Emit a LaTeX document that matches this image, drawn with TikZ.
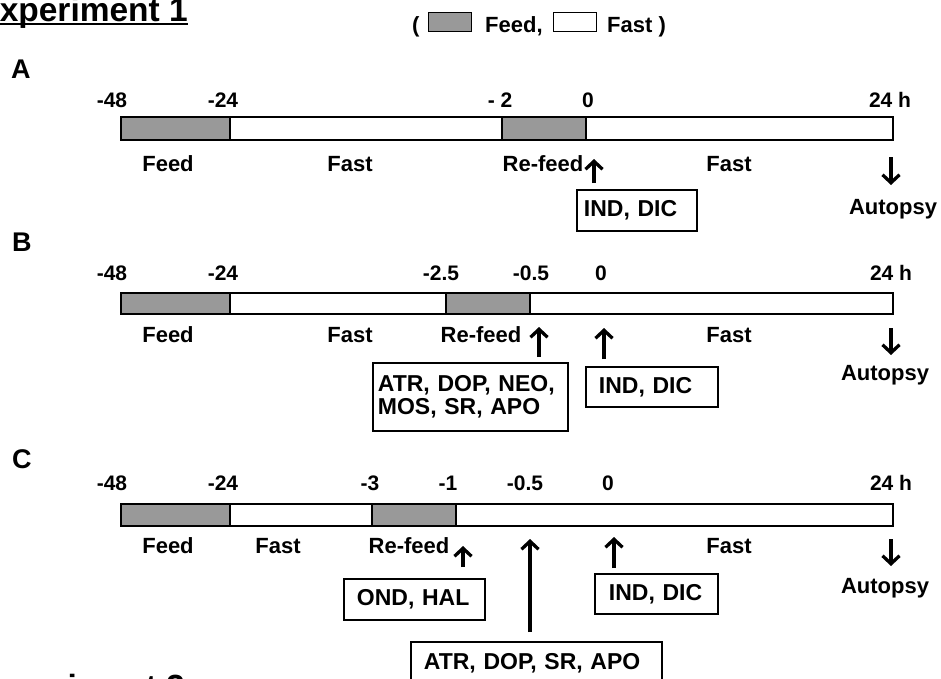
\documentclass[tikz,border=0pt]{standalone}
\usepackage{fontspec}
\setmainfont{Liberation Sans}
\usetikzlibrary{arrows.meta, positioning}
\definecolor{feedgray}{RGB}{153,153,153}
\begin{document}
\begin{tikzpicture}[
  x=1pt, y=-1pt,
  ticklab/.style = {font=\fontsize{21}{21}\selectfont\bfseries, anchor=base, inner sep=0pt},
  phaselab/.style = {font=\fontsize{22}{22}\selectfont\bfseries, anchor=base, inner sep=0pt},
  panellab/.style = {font=\fontsize{27}{27}\selectfont\bfseries, anchor=base west, inner sep=0pt},
  exptitle/.style = {font=\fontsize{33.5}{33.5}\selectfont\bfseries, anchor=base east, inner sep=0pt},
  feedseg/.style = {draw, fill=feedgray, line width=1.6pt},
  fastseg/.style = {draw, fill=white, line width=1.6pt},
  legbox/.style = {draw, line width=1.4pt, minimum width=43pt, minimum height=19pt,
    inner sep=0pt, anchor=south west},
  drugbox/.style = {draw, line width=1.8pt, font=\fontsize{23}{23}\selectfont\bfseries,
    align=left, inner ysep=0pt, anchor=north west},
  dosearrow/.style = {-{Straight Barb[length=8pt, width=17pt]}, line width=3.3pt}
]
\fill[white] (0,0) rectangle (941,678);
\useasboundingbox (0,0) rectangle (941,678);
%--- TITULOS E LEGENDA ---
\node[exptitle] (exp1) at (188,21) {Experiment 1};
\draw[line width=2pt] ([yshift=-3pt]exp1.base west) -- ([yshift=-3pt]exp1.base east);
\node[exptitle] (exp2) at (185,698) {Experiment 2};
\draw[line width=2pt] ([yshift=-3pt]exp2.base west) -- ([yshift=-3pt]exp2.base east);
\node[phaselab, anchor=base west] (lopen) at (412,32) {(};
\node[legbox, fill=feedgray] (lfeed) at (428,32) {};
\node[phaselab, anchor=base west] (lfeedtxt) at (485,32) {Feed,};
\node[legbox, fill=white] (lfast) at (553,32) {};
\node[phaselab, anchor=base west] (lfasttxt) at (607,32) {Fast )};
%--- PAINEL A ---
\node[panellab] (pA) at (11,78) {A};
\draw[fastseg] (121,117) rectangle (893,140);
\draw[feedseg] (121,117) rectangle (230,140);
\draw[feedseg] (502,117) rectangle (586,140);
\node[ticklab] (tA1) at (112,107) {-48};
\node[ticklab] (tA2) at (223,107) {-24};
\node[ticklab] (tA3) at (500,107) {- 2};
\node[ticklab] (tA4) at (588,107) {0};
\node[ticklab] (tA5) at (890,107) {24 h};
\node[phaselab] (fA1) at (168,171) {Feed};
\node[phaselab] (fA2) at (350,171) {Fast};
\node[phaselab] (fA3) at (543,171) {Re-feed};
\node[phaselab] (fA4) at (729,171) {Fast};
\node[phaselab] (autA) at (893,214) {Autopsy};
\node[drugbox, text width=106pt, inner xsep=7pt, minimum height=41pt] (bAind) at (576,189) {IND, DIC};
\coordinate (dAind) at (594,159);
\coordinate (dAaut) at (891,185);
\draw[dosearrow] ([yshift=-24pt]dAind) -- (dAind);
\draw[dosearrow] ([yshift=28pt]dAaut) -- (dAaut);
%--- PAINEL B ---
\node[panellab] (pB) at (12,251) {B};
\draw[fastseg] (121,293) rectangle (893,314);
\draw[feedseg] (121,293) rectangle (230,314);
\draw[feedseg] (446,293) rectangle (530,314);
\node[ticklab] (tB1) at (112,280) {-48};
\node[ticklab] (tB2) at (223,280) {-24};
\node[ticklab] (tB3) at (441,280) {-2.5};
\node[ticklab] (tB4) at (531,280) {-0.5};
\node[ticklab] (tB5) at (601,280) {0};
\node[ticklab] (tB6) at (891,280) {24 h};
\node[phaselab] (fB1) at (168,342) {Feed};
\node[phaselab] (fB2) at (350,342) {Fast};
\node[phaselab] (fB3) at (481,342) {Re-feed};
\node[phaselab] (fB4) at (729,342) {Fast};
\node[phaselab] (autB) at (885,380) {Autopsy};
\node[drugbox, text width=185pt, inner xsep=5pt, minimum height=68pt] (bBatr) at (372,362)
  {ATR, DOP, NEO,\\MOS, SR, APO};
\node[drugbox, text width=106pt, inner xsep=13pt, minimum height=40pt] (bBind) at (585,366) {IND, DIC};
\coordinate (dBatr) at (539,327);
\coordinate (dBind) at (604,328);
\coordinate (dBaut) at (891,355);
\draw[dosearrow] ([yshift=-30pt]dBatr) -- (dBatr);
\draw[dosearrow] ([yshift=-31pt]dBind) -- (dBind);
\draw[dosearrow] ([yshift=27pt]dBaut) -- (dBaut);
%--- PAINEL C ---
\node[panellab] (pC) at (12,468) {C};
\draw[fastseg] (121,504) rectangle (893,526);
\draw[feedseg] (121,504) rectangle (230,526);
\draw[feedseg] (372,504) rectangle (456,526);
\node[ticklab] (tC1) at (112,490) {-48};
\node[ticklab] (tC2) at (223,490) {-24};
\node[ticklab] (tC3) at (370,490) {-3};
\node[ticklab] (tC4) at (448,490) {-1};
\node[ticklab] (tC5) at (525,490) {-0.5};
\node[ticklab] (tC6) at (608,490) {0};
\node[ticklab] (tC7) at (891,490) {24 h};
\node[phaselab] (fC1) at (168,553) {Feed};
\node[phaselab] (fC2) at (278,553) {Fast};
\node[phaselab] (fC3) at (409,553) {Re-feed};
\node[phaselab] (fC4) at (729,553) {Fast};
\node[phaselab] (autC) at (885,593) {Autopsy};
\node[drugbox, text width=115pt, inner xsep=13pt, minimum height=41pt] (bCond) at (343,578) {OND, HAL};
\node[drugbox, text width=95pt, inner xsep=14pt, minimum height=40pt] (bCind) at (594,573) {IND, DIC};
\node[drugbox, text width=225pt, inner xsep=13pt, minimum height=42pt] (bCatr) at (410,641) {ATR, DOP, SR, APO};
\coordinate (dCond) at (463,546);
\coordinate (dCatr) at (530,539);
\coordinate (dCind) at (614,537);
\coordinate (dCaut) at (891,566);
\draw[dosearrow] ([yshift=-21pt]dCond) -- (dCond);
\draw[dosearrow] ([yshift=-93pt]dCatr) -- (dCatr);
\draw[dosearrow] ([yshift=-31pt]dCind) -- (dCind);
\draw[dosearrow] ([yshift=27pt]dCaut) -- (dCaut);
\end{tikzpicture}
\end{document}
